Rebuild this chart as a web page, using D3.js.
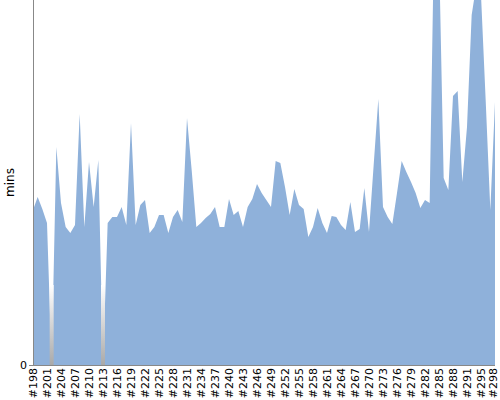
<!DOCTYPE html>
<html>
<head>
<meta charset="utf-8">
<script src="https://cdn.jsdelivr.net/npm/d3@7"></script>
<style>
  html, body { margin: 0; padding: 0; background: #fff; }
  svg { display: block; font-family: "DejaVu Sans", Verdana, sans-serif; }
</style>
</head>
<body>
<svg id="chart" width="500" height="400"></svg>
<script>
// Build numbers (one build, #293, absent from the series)
const builds = [
  198,199,200,201,202,203,204,205,206,207,208,209,210,211,212,213,214,215,216,217,
  218,219,220,221,222,223,224,225,226,227,228,229,230,231,232,233,234,235,236,237,
  238,239,240,241,242,243,244,245,246,247,248,249,250,251,252,253,254,255,256,257,
  258,259,260,261,262,263,264,265,266,267,268,269,270,271,272,273,274,275,276,277,
  278,279,280,281,282,283,284,285,286,287,288,289,290,291,292,294,295,296,297,298
];
const categories = builds.map(b => "#" + b);

// Build durations (mins, relative scale)
const durations = [
  15.5,16.8,15.6,14.2,0,21.8,16.2,13.8,13.2,14.0,
  25.1,13.8,20.3,15.8,20.5,0,14.2,14.8,14.8,15.8,
  14.0,24.2,14.0,16.0,16.5,13.2,13.8,15.0,15.0,13.2,
  14.8,15.5,14.3,24.7,19.5,13.8,14.2,14.7,15.1,15.8,
  13.8,13.8,16.6,15.0,15.4,13.8,15.8,16.6,18.1,17.2,
  16.5,15.8,20.4,20.2,17.8,15.0,17.6,16.0,15.6,12.8,
  13.8,15.7,14.2,13.2,14.9,14.8,14.0,13.5,16.3,13.3,
  13.6,17.7,13.3,20.0,26.6,15.8,14.8,14.1,17.2,20.4,
  19.3,18.3,17.2,15.7,16.5,16.2,44.5,41.5,18.7,17.5,
  26.9,27.4,18.3,23.8,35.0,38.0,37.0,26.5,15.5,26.3
];

const yTicks = [0];
const yLabel = "mins";

const data = categories.map((c, i) => ({ cat: c, v: durations[i] }));

const svg = d3.select("#chart");
const mLeft = 33, mRight = 495, mTop = 0, mBottom = 365;

const x = d3.scalePoint().domain(categories).range([mLeft, mRight]);
const y = d3.scaleLinear().domain([0, 36.5]).range([mBottom, mTop]);

const defs = svg.append("defs");
defs.append("clipPath").attr("id", "plotclip")
  .append("rect").attr("x", mLeft).attr("y", mTop)
  .attr("width", mRight - mLeft + 1).attr("height", mBottom - mTop);

const grad = defs.append("linearGradient").attr("id", "zeroGrad")
  .attr("x1", 0).attr("y1", 0).attr("x2", 0).attr("y2", 1);
grad.append("stop").attr("offset", "0%").attr("stop-color", "#ffffff");
grad.append("stop").attr("offset", "100%").attr("stop-color", "#a9a9a9");

const g = svg.append("g").attr("clip-path", "url(#plotclip)");

const area = d3.area()
  .x(d => x(d.cat))
  .y0(y(0))
  .y1(d => y(d.v));

g.append("path")
  .datum(data)
  .attr("fill", "#8fb1da")
  .attr("d", area);

// gray fading strips where a build has zero duration
g.selectAll("rect.zero")
  .data(data.filter(d => d.v === 0))
  .join("rect")
  .attr("class", "zero")
  .attr("x", d => x(d.cat) - 2)
  .attr("width", 4)
  .attr("y", y(8))
  .attr("height", y(0) - y(8))
  .attr("fill", "url(#zeroGrad)");

// X axis
const xTickVals = categories.filter((d, i) => i % 3 === 0);
const xAxis = d3.axisBottom(x)
  .tickValues(xTickVals)
  .tickSize(0)
  .tickPadding(0);

const gx = svg.append("g")
  .attr("transform", `translate(0,${mBottom})`)
  .call(xAxis);
gx.select(".domain").attr("stroke", "#888").attr("d", `M${mLeft},0.5H${mRight}`);
gx.selectAll("text")
  .attr("font-size", 11)
  .attr("font-family", "DejaVu Sans, Verdana, sans-serif")
  .attr("fill", "#000")
  .attr("text-anchor", "end")
  .attr("transform", "rotate(-90)")
  .attr("x", -3)
  .attr("y", 0)
  .attr("dy", d => d === xTickVals[xTickVals.length - 1] ? "0.12em" : "0.3em");

// Y axis
const yAxis = d3.axisLeft(y)
  .tickValues(yTicks)
  .tickFormat(d3.format("d"))
  .tickSize(4)
  .tickPadding(2);

const gy = svg.append("g")
  .attr("transform", `translate(${mLeft},0)`)
  .call(yAxis);
gy.select(".domain").attr("stroke", "#888").attr("d", `M0.5,${mTop}V${mBottom}`);
gy.selectAll(".tick line").attr("stroke", "#888");
gy.selectAll("text")
  .attr("font-size", 11)
  .attr("font-family", "DejaVu Sans, Verdana, sans-serif")
  .attr("fill", "#000");

svg.append("text")
  .attr("transform", `translate(14,${(mTop + mBottom) / 2}) rotate(-90)`)
  .attr("text-anchor", "middle")
  .attr("font-size", 12)
  .attr("font-family", "DejaVu Sans, Verdana, sans-serif")
  .attr("fill", "#000")
  .text(yLabel);
</script>
</body>
</html>
